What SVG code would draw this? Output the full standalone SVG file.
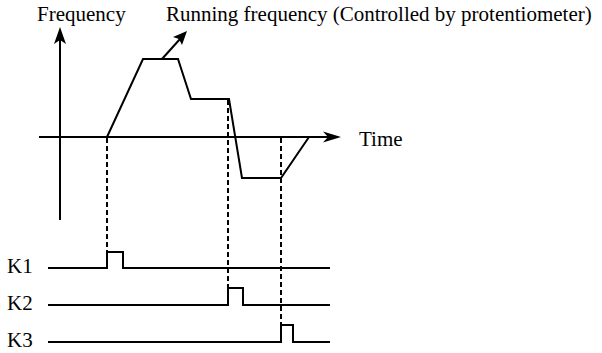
<svg xmlns="http://www.w3.org/2000/svg" width="602" height="353" viewBox="0 0 602 353">
<style>
text{font-family:"Liberation Serif","Times New Roman",serif;font-size:21px;fill:#000}
.ln{fill:none;stroke:#000;stroke-width:2;stroke-linejoin:miter}
.dash{fill:none;stroke:#000;stroke-width:2;stroke-dasharray:5 3}
.head{fill:#000;stroke:none}
</style>
<rect width="602" height="353" fill="#fff"/>
<g id="axes">
<line class="ln" x1="60" y1="40" x2="60" y2="220"/>
<path class="head" d="M60,27 L66,44 L60,40 L54,44 Z"/>
<line class="ln" x1="39" y1="137" x2="330" y2="137"/>
<path class="head" d="M341,137 L323,131.5 L328,137 L323,142.5 Z"/>
<text x="37" y="21">Frequency</text>
<text x="359" y="146">Time</text>
</g>
<g id="curve">
<polyline class="ln" points="107,137 143,59 178,59 191,99 229,99 242,178 281,178 309,137"/>
<line class="ln" x1="162" y1="59" x2="180" y2="39"/>
<path class="head" d="M187,31 L182,45 L179,39 L173,37 Z"/>
<text x="166" y="21">Running frequency (Controlled by protentiometer)</text>
</g>
<g id="connectors">
<line class="dash" x1="107" y1="138" x2="107" y2="252"/>
<line class="dash" x1="228" y1="100" x2="228" y2="288"/>
<line class="dash" x1="281" y1="138" x2="281" y2="325"/>
</g>
<g id="K1">
<text x="7" y="273">K1</text>
<polyline class="ln" points="48,268 107,268 107,252 123,252 123,268 330,268"/>
</g>
<g id="K2">
<text x="7" y="310">K2</text>
<polyline class="ln" points="48,305 228,305 228,288 243,288 243,305 330,305"/>
</g>
<g id="K3">
<text x="7" y="347">K3</text>
<polyline class="ln" points="48,342 281,342 281,325 293,325 293,342 330,342"/>
</g>
</svg>
